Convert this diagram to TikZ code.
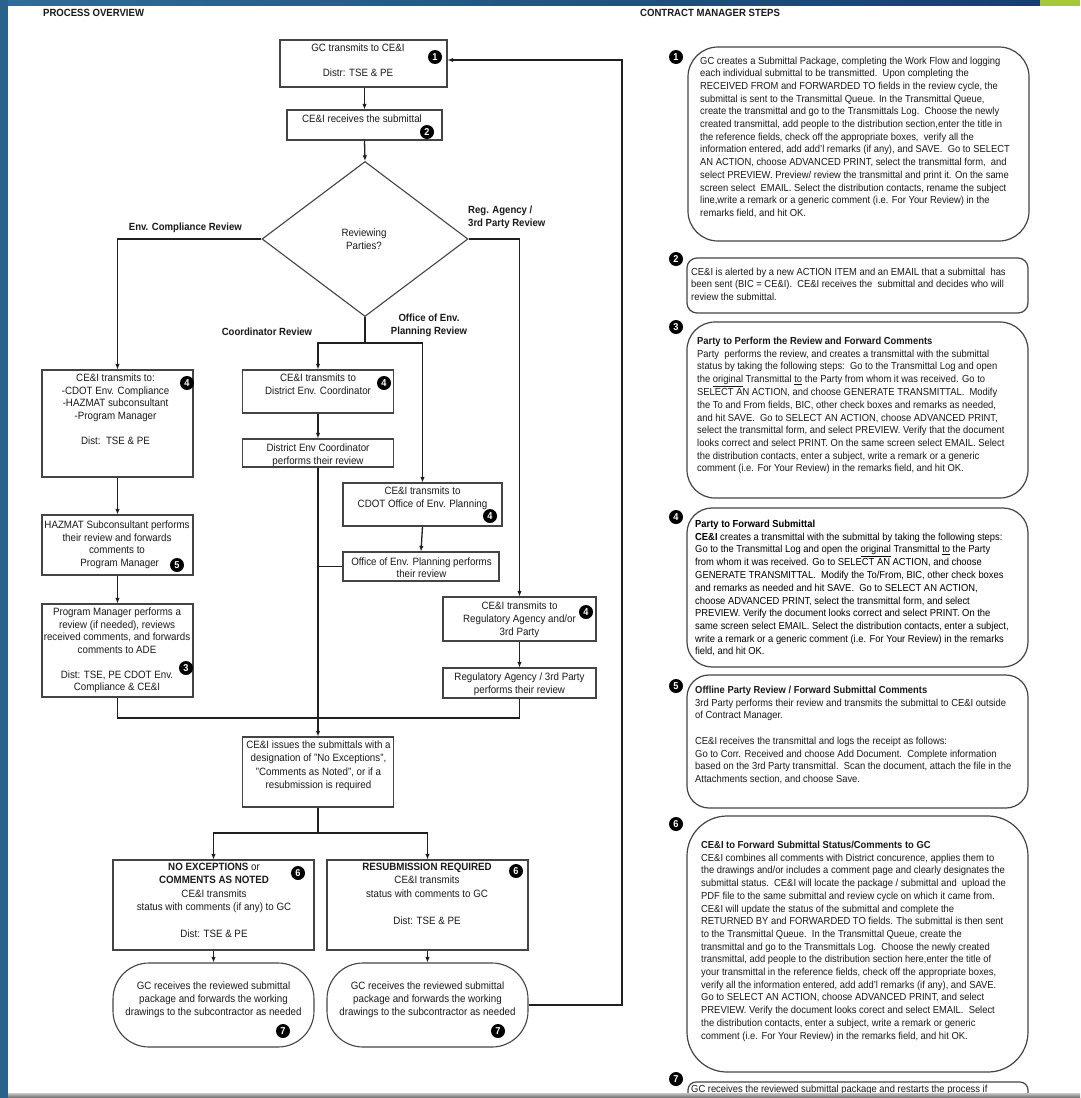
\documentclass[tikz,border=0pt]{standalone}
\usepackage{fontspec}
\setmainfont{Liberation Sans}[FakeStretch=0.92]
\usetikzlibrary{shapes.geometric,arrows.meta,calc}
\definecolor{txt}{HTML}{1A1A1A}
\definecolor{boxc}{HTML}{444444}
\definecolor{linec}{HTML}{202020}
\definecolor{frameA}{HTML}{2C6E9B}
\definecolor{frameB}{HTML}{1A3C6E}
\definecolor{frameG}{HTML}{A3C93A}
\newcommand{\tabc}[1]{\begin{tabular}[t]{@{}c@{}}#1\end{tabular}}
\newcommand{\tabl}[1]{\begin{tabular}[t]{@{}l@{}}#1\end{tabular}}
\tikzset{
  bx/.style={draw=boxc, line width=1.1pt, fill=white, inner sep=0pt},
  gcbox/.style={bx, rounded corners=36pt},
  rbox/.style={draw=boxc, line width=1.2pt, inner sep=0pt},
  conn/.style={draw=linec, line width=1.3pt},
  arr/.style={conn, -{Latex[length=5.5pt,width=4.5pt]}},
  badge/.style={circle, fill=black, text=white, inner sep=0pt, minimum size=14pt, font=\fontsize{10}{10}\selectfont\bfseries},
  lt/.style={inner sep=0pt, anchor=base, text=txt, font=\fontsize{10.6}{12.5}\selectfont},
  ltw/.style={inner sep=0pt, anchor=base, text=txt, font=\fontsize{10.6}{13.4}\selectfont},
  lab/.style={inner sep=0pt, text=txt, font=\fontsize{10.4}{12.6}\selectfont\bfseries},
  rt/.style={inner sep=0pt, anchor=base west, text=txt, font=\fontsize{10.2}{12.7}\selectfont},
}
\begin{document}
\begin{tikzpicture}[x=1pt,y=-1pt]
\useasboundingbox (0,0) rectangle (1080,1098);
\clip (0,0) rectangle (1080,1098);
\fill[white] (0,0) rectangle (1080,1098);

% headers
\node[lab, anchor=base west] (h1) at (43,16.5) {PROCESS OVERVIEW};
\node[lab, anchor=base west] (h2) at (640,16.5) {CONTRACT MANAGER STEPS};

% ---------------- left flow chart ----------------
\node[bx, minimum width=167pt, minimum height=47pt] (b1) at (363.5,63.5) {};
\node[lt] (t1) at (358,51.5) {\tabc{GC transmits to CE\&I\\ \\Distr: TSE \& PE}};
\node[badge] (n1) at (435,57) {1};

\node[bx, minimum width=155pt, minimum height=30pt] (b2) at (364.5,125) {};
\node[lt] (t2) at (362,122.5) {CE\&I receives the submittal};
\node[badge] (n2) at (427,132) {2};

\node[diamond, draw=boxc, line width=1.1pt, minimum width=206pt, minimum height=155pt, inner sep=0pt] (dia) at (365,239) {};
\node[lt] (tdia) at (364,236.5) {\tabc{Reviewing\\Parties?}};

\node[lab, anchor=base east] (l1) at (242,230.5) {Env. Compliance Review};
\node[lab, anchor=base west] (l2) at (468,213.5) {\tabl{Reg. Agency /\\3rd Party Review}};
\node[lab, anchor=base] (l3) at (429,321.5) {\tabc{Office of Env.\\Planning Review}};
\node[lab, anchor=base] (l4) at (267,335.5) {Coordinator Review};

% left column
\node[bx, minimum width=151pt, minimum height=107pt] (b4a) at (117.5,423.5) {};
\node[lt] (t4a) at (115.5,381.5) {\tabc{CE\&I transmits to:\\-CDOT Env. Compliance\\-HAZMAT subconsultant\\-Program Manager\\ \\Dist:\ \ TSE \& PE}};
\node[badge] (n4a) at (187,383) {4};

\node[bx, minimum width=151pt, minimum height=60pt] (b5) at (117.5,545) {};
\node[lt] (t5) at (117,528.5) {\tabc{HAZMAT Subconsultant performs\\their review and forwards\\comments to\\\ \ Program Manager}};
\node[badge] (n5) at (177,565) {5};

\node[bx, minimum width=151pt, minimum height=93pt] (b3) at (117.5,650.5) {};
\node[lt] (t3) at (117,615.5) {\tabc{Program Manager performs a\\review (if needed), reviews\\received comments, and forwards\\comments to ADE\\ \\Dist: TSE, PE CDOT Env.\\Compliance \& CE\&I}};
\node[badge] (n3) at (186,668) {3};

% middle column
\node[bx, minimum width=151pt, minimum height=43pt] (bdc) at (318,391.5) {};
\node[ltw] (tdc) at (318,381.5) {\tabc{CE\&I transmits to\\District Env. Coordinator}};
\node[badge] (n4b) at (384,383) {4};

\node[bx, minimum width=151pt, minimum height=28pt] (bdp) at (318,453) {};
\node[lt] (tdp) at (318,451.5) {\tabc{District Env Coordinator\\performs their review}};

\node[bx, minimum width=159pt, minimum height=43pt] (bco) at (422.5,504.5) {};
\node[ltw] (tco) at (422.5,494.5) {\tabc{CE\&I transmits to\\CDOT Office of Env. Planning}};
\node[badge] (n4c) at (490,516) {4};

\node[bx, minimum width=156pt, minimum height=29pt] (bop) at (421,566.5) {};
\node[lt] (top) at (421.5,565) {\tabc{Office of Env. Planning performs\\their review}};

% right column of chart
\node[bx, minimum width=153pt, minimum height=44pt] (brg) at (519.5,619) {};
\node[ltw] (trg) at (519.5,609) {\tabc{CE\&I transmits to\\Regulatory Agency and/or\\3rd Party}};
\node[badge] (n4d) at (586,612) {4};

\node[bx, minimum width=153pt, minimum height=30pt] (brp) at (519.5,683) {};
\node[ltw] (trp) at (519.5,680) {\tabc{Regulatory Agency / 3rd Party\\performs their review}};

% issues
\node[bx, minimum width=151pt, minimum height=70pt] (bis) at (318,772) {};
\node[ltw] (tis) at (318.5,748.5) {\tabc{CE\&I issues the submittals with a\\designation of "No Exceptions",\\"Comments as Noted", or if a\\resubmission is required}};

% outcomes
\node[bx, minimum width=201pt, minimum height=90pt] (bne) at (213.5,905) {};
\node[ltw] (tne) at (214,870.5) {\tabc{\textbf{NO EXCEPTIONS} or\\\textbf{COMMENTS AS NOTED}\\CE\&I transmits\\status with comments (if any) to GC\\ \\Dist: TSE \& PE}};
\node[badge] (n6a) at (298,873) {6};

\node[bx, minimum width=201pt, minimum height=90pt] (brr) at (427.5,905) {};
\node[ltw] (trr) at (427,870.5) {\tabc{\textbf{RESUBMISSION REQUIRED}\\CE\&I transmits\\status with comments to GC\\ \\Dist: TSE \& PE}};
\node[badge] (n6b) at (516,871) {6};

\node[gcbox, minimum width=201pt, minimum height=84pt] (gca) at (213.5,1005) {};
\node[ltw] (tga) at (213.5,989) {\tabc{GC receives the reviewed submittal\\package and forwards the working\\drawings to the subcontractor as needed}};
\node[badge] (n7a) at (283,1031) {7};

\node[gcbox, minimum width=201pt, minimum height=84pt] (gcb) at (427.5,1005) {};
\node[ltw] (tgb) at (427.5,989) {\tabc{GC receives the reviewed submittal\\package and forwards the working\\drawings to the subcontractor as needed}};
\node[badge] (n7b) at (498,1031) {7};

% connectors
\coordinate (sp1) at (365,343);
\coordinate (mg) at (318,718);
\coordinate (sp2) at (318,833);
\coordinate (lp1) at (622,1005);
\coordinate (lp2) at (622,60);
\draw[arr] (b1.south -| b2.north) -- (b2.north);
\draw[arr] (b2.south) -- (dia.north);
\draw[arr] (dia.west) -| (b4a.north);
\draw[arr] (dia.east) -| (brg.north);
\draw[conn] (dia.south) -- (sp1);
\draw[arr] (sp1) -| (bdc.north);
\draw[arr] (sp1) -| (bco.north);
\draw[arr] (b4a.south) -- (b5.north);
\draw[arr] (b5.south) -- (b3.north);
\draw[arr] (bdc.south) -- (bdp.north);
\draw[arr] (bco.south) -- (bop.north);
\draw[arr] (brg.south) -- (brp.north);
\draw[conn] (b3.south) |- (mg);
\draw[conn] (brp.south) |- (mg);
\draw[conn] (bdp.south) -- (mg);
\draw[conn] (bop.west) -- (bop.west -| mg);
\draw[arr] (mg) -- (bis.north);
\draw[conn] (bis.south) -- (sp2);
\draw[arr] (sp2) -| (bne.north);
\draw[arr] (sp2) -| (brr.north);
\draw[arr] (bne.south) -- (gca.north);
\draw[arr] (brr.south) -- (gcb.north);
\draw[arr] (gcb.east) -- (lp1) -- (lp2) -- (b1.east |- lp2);

% ---------------- Contract manager steps ----------------
\node[rbox, rounded corners=30pt, minimum width=341pt, minimum height=194pt] (r1) at (858.5,144) {};
\node[badge] (m1) at (676,57) {1};
\node[rt] (rt1) at (700,64) {\tabl{GC creates a Submittal Package, completing the Work Flow and logging\\
each individual submittal to be transmitted.\ \ Upon completing the\\
RECEIVED FROM and FORWARDED TO fields in the review cycle, the\\
submittal is sent to the Transmittal Queue. In the Transmittal Queue,\\
create the transmittal and go to the Transmittals Log.\ \ Choose the newly\\
created transmittal, add people to the distribution section,enter the title in\\
the reference fields, check off the appropriate boxes,\ \ verify all the\\
information entered, add add'l remarks (if any), and SAVE.\ \ Go to SELECT\\
AN ACTION, choose ADVANCED PRINT, select the transmittal form,\ \ and\\
select PREVIEW. Preview/ review the transmittal and print it. On the same\\
screen select\ \ EMAIL. Select the distribution contacts, rename the subject\\
line,write a remark or a generic comment (i.e. For Your Review) in the\\
remarks field, and hit OK.}};

\node[rbox, rounded corners=10pt, minimum width=341pt, minimum height=55pt] (r2) at (857.5,285.5) {};
\node[badge] (m2) at (676,259) {2};
\node[rt] (rt2) at (691,275) {\tabl{CE\&I is alerted by a new ACTION ITEM and an EMAIL that a submittal\ \ has\\
been sent (BIC = CE\&I).\ \ CE\&I receives the\ \ submittal and decides who will\\
review the submittal.}};

\node[rbox, rounded corners=28pt, minimum width=341pt, minimum height=176pt] (r3) at (857.5,410) {};
\node[badge] (m3) at (676,327) {3};
\node[rt] (rt3) at (697,344.5) {\tabl{\textbf{Party to Perform the Review and Forward Comments}\\
Party\ \ performs the review, and creates a transmittal with the submittal\\
status by taking the following steps:\ \ Go to the Transmittal Log and open\\
the \underline{original} Transmittal \underline{to} the Party from whom it was received. Go to\\
SELECT AN ACTION, and choose GENERATE TRANSMITTAL.\ \ Modify\\
the To and From fields, BIC, other check boxes and remarks as needed,\\
and hit SAVE.\ \ Go to SELECT AN ACTION, choose ADVANCED PRINT,\\
select the transmittal form, and select PREVIEW. Verify that the document\\
looks correct and select PRINT. On the same screen select EMAIL. Select\\
the distribution contacts, enter a subject, write a remark or a generic\\
comment (i.e. For Your Review) in the remarks field, and hit OK.}};

\node[rbox, rounded corners=25pt, minimum width=341pt, minimum height=159pt] (r4) at (857.5,587.5) {};
\node[badge] (m4) at (676,517) {4};
\node[rt, text=black] (rt4) at (695,527.5) {\tabl{\textbf{Party to Forward Submittal}\\
\textbf{CE\&I} creates a transmittal with the submittal by taking the following steps:\\
Go to the Transmittal Log and open the \underline{original} Transmittal \underline{to} the Party\\
from whom it was received. Go to SELECT AN ACTION, and choose\\
GENERATE TRANSMITTAL.\ \ Modify the To/From, BIC, other check boxes\\
and remarks as needed and hit SAVE.\ \ Go to SELECT AN ACTION,\\
choose ADVANCED PRINT, select the transmittal form, and select\\
PREVIEW. Verify the document looks correct and select PRINT. On the\\
same screen select EMAIL. Select the distribution contacts, enter a subject,\\
write a remark or a generic comment (i.e. For Your Review) in the remarks\\
field, and hit OK.}};

\node[rbox, rounded corners=22pt, minimum width=341pt, minimum height=133pt] (r5) at (857.5,741.5) {};
\node[badge] (m5) at (676,686) {5};
\node[rt] (rt5) at (695,693.5) {\tabl{\textbf{Offline Party Review / Forward Submittal Comments}\\
3rd Party performs their review and transmits the submittal to CE\&I outside\\
of Contract Manager.\\
\\
CE\&I receives the transmittal and logs the receipt as follows:\\
Go to Corr. Received and choose Add Document.\ \ Complete information\\
based on the 3rd Party transmittal.\ \ Scan the document, attach the file in the\\
Attachments section, and choose Save.}};

\node[rbox, rounded corners=40pt, minimum width=341pt, minimum height=256pt] (r6) at (857.5,944) {};
\node[badge] (m6) at (676,824) {6};
\node[rt] (rt6) at (701,848.5) {\tabl{\textbf{CE\&I to Forward Submittal Status/Comments to GC}\\
CE\&I combines all comments with District concurence, applies them to\\
the drawings and/or includes a comment page and clearly designates the\\
submittal status.\ \ CE\&I will locate the package / submittal and\ \ upload the\\
PDF file to the same submittal and review cycle on which it came from.\\
CE\&I will update the status of the submittal and complete the\\
RETURNED BY and FORWARDED TO fields. The submittal is then sent\\
to the Transmittal Queue.\ \ In the Transmittal Queue, create the\\
transmittal and go to the Transmittals Log.\ \ Choose the newly created\\
transmittal, add people to the distribution section here,enter the title of\\
your transmittal in the reference fields, check off the appropriate boxes,\\
verify all the information entered, add add'l remarks (if any), and SAVE.\\
Go to SELECT AN ACTION, choose ADVANCED PRINT, and select\\
PREVIEW. Verify the document looks corect and select EMAIL.\ \ Select\\
the distribution contacts, enter a subject, write a remark or generic\\
comment (i.e. For Your Review) in the remarks field, and hit OK.}};

\node[rbox, rounded corners=8pt, minimum width=340pt, minimum height=40pt] (r7) at (858,1102) {};
\node[badge] (m7) at (676,1079) {7};
\node[rt] (rt7) at (691,1092.5) {GC receives the reviewed submittal package and restarts the process if};

% ---------------- frame ----------------
\shade[top color=gray!45, bottom color=gray!80!black] (8,1093) rectangle (1080,1098);
\shade[left color=frameA, right color=frameB] (0,0) rectangle (1040,5.5);
\fill[frameG] (1040,0) rectangle (1080,5.5);
\fill[frameA!90!black] (0,0) rectangle (8,1098);
\end{tikzpicture}
\end{document}
